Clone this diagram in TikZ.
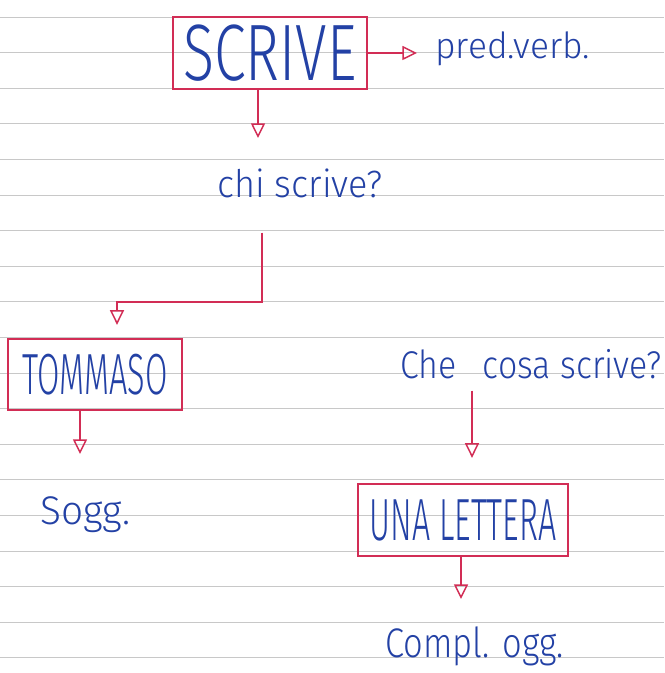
\documentclass[tikz,border=0pt]{standalone}
\usepackage{fontspec}
\setmainfont{Fira Sans Light}
\usetikzlibrary{arrows.meta}
\definecolor{ink}{RGB}{35,65,165}
\definecolor{redpen}{RGB}{210,45,85}
\definecolor{rulegray}{RGB}{200,200,200}
\newdimen\myfitdim
\newcommand\fitw[2]{\setbox0=\hbox{#2}\myfitdim=\wd0\relax\pgfmathsetmacro\myfitscale{#1/\myfitdim}\scalebox{\myfitscale}[1]{\box0}}
\begin{document}
\begin{tikzpicture}[x=0.75pt,y=-0.75pt,
  box/.style={draw=redpen,line width=1.2pt,inner sep=0pt,text=ink},
  txt/.style={inner sep=0pt,anchor=base west,text=ink},
  arr/.style={draw=redpen,line width=1.2pt,-{Triangle[open,length=11pt,width=10.5pt,line width=1.1pt]}}]
\useasboundingbox (0,0) rectangle (664,673);
\fill[white] (0,0) rectangle (664,673);
\foreach \k in {0,...,18} \draw[rulegray,line width=0.6pt] (0,{17+35.6*\k}) -- (664,{17+35.6*\k});
% nodes
\node[box,minimum width=194*0.75pt,minimum height=72*0.75pt] (scrive) at (270,53) {\fontsize{60}{60}\selectfont\fitw{130}{SCRIVE}};
\node[txt] (pred) at (435,59) {\fontsize{27}{27}\selectfont\fitw{116}{pred.verb.}};
\node[txt] (chi) at (217,198) {\fontsize{28.5}{28}\selectfont\fitw{124}{chi scrive?}};
\node[box,minimum width=174*0.75pt,minimum height=71*0.75pt] (tom) at (95,374.5) {\fontsize{43.5}{44}\selectfont\fitw{109}{TOMMASO}};
\node[txt] (che) at (400,378) {\fontsize{29}{29}\selectfont\fitw{196}{Che\hspace{0.5em} cosa scrive?}};
\node[txt] (sogg) at (40,524) {\fontsize{30}{30}\selectfont\fitw{67.5}{Sogg.}};
\node[box,minimum width=210*0.75pt,minimum height=72*0.75pt] (una) at (463,520) {\fontsize{44.6}{45}\selectfont\fitw{140}{UNA LETTERA}};
\node[txt] (compl) at (385,657) {\fontsize{31}{31}\selectfont\fitw{134}{Compl. ogg.}};
% helper coordinates
\coordinate (t2) at (258,138);
\coordinate (k1) at (262,302);
\coordinate (k2) at (117,302);
\coordinate (t4) at (80,454);
\coordinate (k5) at (472,400);
\coordinate (t6) at (461,599);
% connectors
\draw[arr,shorten >=13.5pt] (scrive.east) -- (pred.west |- scrive.east);
\draw[arr] (scrive.south -| t2) -- (t2);
\draw[arr,shorten <=25.5pt,shorten >=10pt] (chi.south -| k1) -- (k1) -- (k2) -- (tom.north -| k2);
\draw[arr] (tom.south -| t4) -- (t4);
\draw[arr,shorten <=9pt,shorten >=19pt] (che.south -| k5) -- (una.north -| k5);
\draw[arr] (una.south -| t6) -- (t6);
\end{tikzpicture}
\end{document}
